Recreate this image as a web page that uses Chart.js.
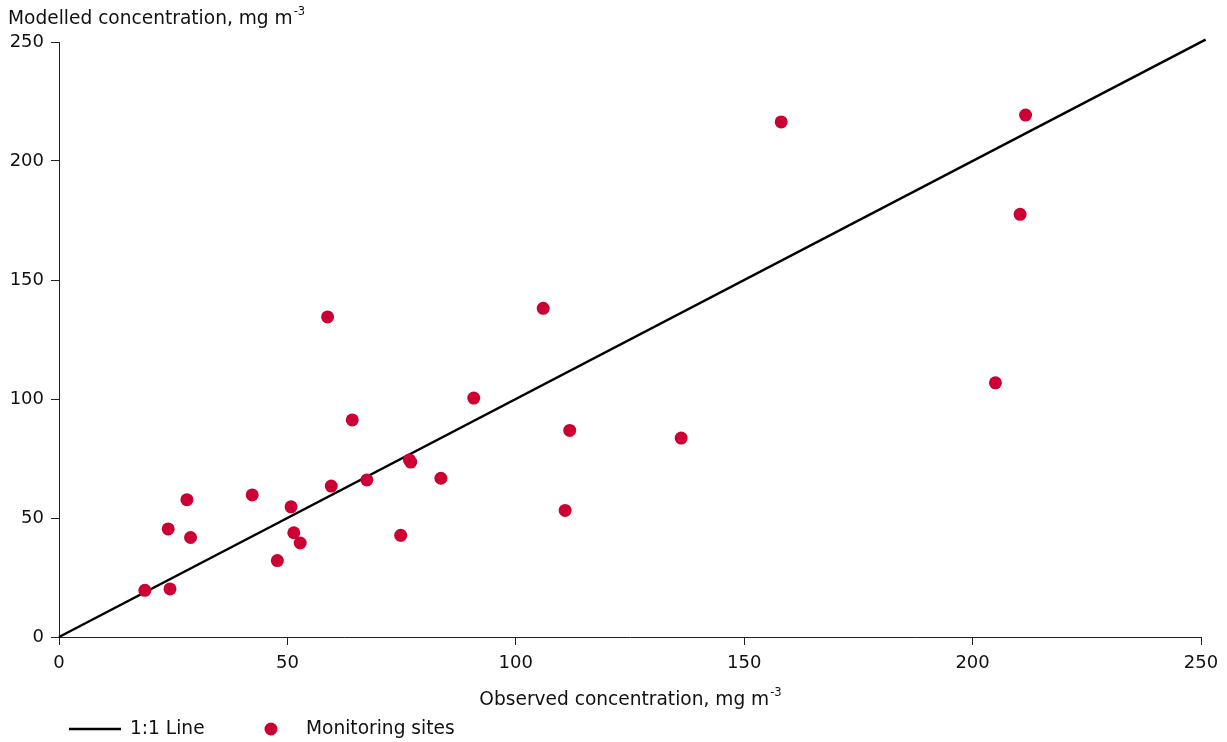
<!DOCTYPE html>
<html>
<head>
<meta charset="utf-8">
<script src="https://cdn.jsdelivr.net/npm/chart.js@4"></script>
<style>
html,body{margin:0;padding:0;background:#fff;}
#wrap{width:1227px;height:742px;}
</style>
</head>
<body>
<div id="wrap"><canvas id="c" width="1227" height="742"></canvas></div>
<script>
// Observed (x) and modelled (y) concentrations at monitoring sites
const observed = [18.8, 24.3, 23.9, 28.0, 28.8, 42.3, 47.8, 50.8, 51.4, 52.8, 58.8, 59.6, 64.2, 67.4, 74.8, 76.7, 77.0, 83.6, 90.8, 106.0, 110.8, 111.8, 136.2, 158.1, 205.0, 210.4, 211.6];
const modelled = [19.6, 20.2, 45.4, 57.7, 41.8, 59.7, 32.1, 54.7, 43.8, 39.5, 134.5, 63.4, 91.2, 66.0, 42.7, 74.4, 73.5, 66.7, 100.4, 138.1, 53.2, 86.8, 83.6, 216.4, 106.8, 177.6, 219.3];
const oneToOneX = [0, 251];
const oneToOneY = [0, 251];
const tickValues = [0, 50, 100, 150, 200, 250];
const labels = {
  yTitle: "Modelled concentration, mg m",
  xTitle: "Observed concentration, mg m",
  unitSup: "-3",
  line: "1:1 Line",
  points: "Monitoring sites"
};

const FONT = "'DejaVu Sans', Verdana, sans-serif";
const RED = "#cc0033";
const TXT = "#111";

const sitePoints = observed.map((x, i) => ({x: x, y: modelled[i]}));
const linePoints = oneToOneX.map((x, i) => ({x: x, y: oneToOneY[i]}));

function drawSup(ctx, main, sup, x, baseline, align) {
  ctx.save();
  ctx.fillStyle = TXT;
  ctx.textBaseline = 'alphabetic';
  ctx.font = "18.6px " + FONT;
  const w1 = ctx.measureText(main).width;
  ctx.font = "11.5px " + FONT;
  const w2 = ctx.measureText(sup).width;
  let x0 = x;
  if (align === 'center') x0 = x - (w1 + w2) / 2;
  ctx.textAlign = 'left';
  ctx.font = "18.6px " + FONT;
  ctx.fillText(main, x0, baseline);
  ctx.font = "11.5px " + FONT;
  ctx.fillText(sup, x0 + w1 + 1, baseline - 9.5);
  ctx.restore();
}

const annot = {
  id: 'annot',
  afterDraw(chart) {
    const ctx = chart.ctx;
    const ca = chart.chartArea;
    drawSup(ctx, labels.yTitle, labels.unitSup, 8, 24, 'left');
    drawSup(ctx, labels.xTitle, labels.unitSup, (ca.left + ca.right) / 2, 705, 'center');
    // legend
    ctx.save();
    const ly = 729;
    ctx.strokeStyle = '#000';
    ctx.lineWidth = 2.5;
    ctx.beginPath();
    ctx.moveTo(69, ly);
    ctx.lineTo(121, ly);
    ctx.stroke();
    ctx.fillStyle = TXT;
    ctx.font = "18.6px " + FONT;
    ctx.textBaseline = 'middle';
    ctx.textAlign = 'left';
    ctx.fillText(labels.line, 130, ly);
    ctx.fillStyle = RED;
    ctx.beginPath();
    ctx.arc(271, ly, 6.5, 0, Math.PI * 2);
    ctx.fill();
    ctx.fillStyle = TXT;
    ctx.fillText(labels.points, 306, ly);
    ctx.restore();
  }
};

new Chart(document.getElementById('c'), {
  type: 'scatter',
  data: {
    datasets: [
      {
        label: labels.points,
        data: sitePoints,
        backgroundColor: RED,
        borderColor: RED,
        borderWidth: 0,
        pointRadius: 6.5,
        pointHoverRadius: 6.5,
        order: 0
      },
      {
        label: labels.line,
        data: linePoints,
        showLine: true,
        borderColor: '#000',
        borderWidth: 2.5,
        pointRadius: 0,
        fill: false,
        clip: false,
        order: 1
      }
    ]
  },
  options: {
    responsive: false,
    animation: false,
    devicePixelRatio: 1,
    layout: { padding: { top: 42, right: 26, left: 0, bottom: 0 } },
    plugins: { legend: { display: false }, tooltip: { enabled: false } },
    scales: {
      x: {
        type: 'linear',
        min: 0, max: 250,
        afterBuildTicks(scale) { scale.ticks = tickValues.map(v => ({value: v})); },
        afterFit(scale) { scale.height = 105; },
        border: { display: true, color: '#222', width: 1 },
        grid: { drawOnChartArea: false, drawTicks: true, tickLength: 8, color: '#222', lineWidth: 1 },
        ticks: { color: TXT, font: { family: FONT, size: 18 }, padding: 8, maxRotation: 0 }
      },
      y: {
        type: 'linear',
        min: 0, max: 250,
        afterBuildTicks(scale) { scale.ticks = tickValues.map(v => ({value: v})); },
        afterFit(scale) { scale.width = 59; },
        border: { display: true, color: '#222', width: 1 },
        grid: { drawOnChartArea: false, drawTicks: true, tickLength: 8, color: '#222', lineWidth: 1 },
        ticks: { color: TXT, font: { family: FONT, size: 18 }, padding: 7 }
      }
    }
  },
  plugins: [annot]
});
</script>
</body>
</html>
